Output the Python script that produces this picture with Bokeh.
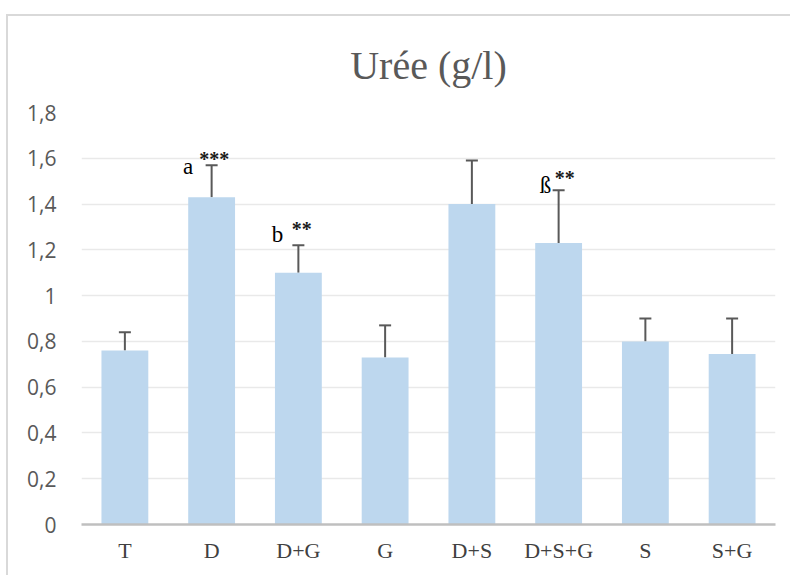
from bokeh.plotting import figure
from bokeh.models import ColumnDataSource, Whisker, TeeHead, FixedTicker, Range1d, Title
from bokeh.core.properties import value
from bokeh.embed import file_html
from bokeh.resources import INLINE

title_text = "Urée (g/l)"
categories = ["T", "D", "D+G", "G", "D+S", "D+S+G", "S", "S+G"]
means = [0.76, 1.43, 1.10, 0.73, 1.40, 1.23, 0.80, 0.745]
errors = [0.08, 0.14, 0.12, 0.14, 0.19, 0.23, 0.10, 0.155]

yticks = [0, 0.2, 0.4, 0.6, 0.8, 1.0, 1.2, 1.4, 1.6, 1.8]
ytick_labels = ["0", "0,2", "0,4", "0,6", "0,8", "1", "1,2", "1,4", "1,6", "1,8"]

# significance annotations: category index, letter, stars, letter y, stars y
ann_index = [1, 2, 5]
ann_letters = ["a", "b", "ß"]
ann_stars = ["***", "**", "**"]
ann_letter_y = [1.565, 1.265, 1.48]
ann_star_y = [1.595, 1.29, 1.515]
ann_letter_dx = [-0.27, -0.24, -0.15]
ann_star_dx = [0.03, 0.04, 0.07]

xs = list(range(len(categories)))
src = ColumnDataSource(dict(
    x=xs, top=means,
    upper=[m + e for m, e in zip(means, errors)],
))

W, H = 784, 561
BL, BR, BT, BB = 73, 17, 96, 53
p = figure(width=W, height=H, output_backend="svg", toolbar_location=None,
           x_range=Range1d(-0.5, len(categories) - 0.5), y_range=Range1d(0, 1.8),
           min_border_left=BL, min_border_right=BR, min_border_top=BT, min_border_bottom=BB,
           outline_line_color=None, background_fill_color="white", border_fill_color="white")
p.styles = {"border-left": "2px solid #d9d9d9", "border-top": "2px solid #d9d9d9",
            "margin-top": "14px", "margin-left": "6px"}

p.add_layout(Title(text=title_text, align="center", vertical_align="top",
                   text_font="Liberation Serif", text_font_size="40px",
                   text_font_style="normal", text_color="#595959", standoff=46), "above")

p.vbar(x="x", top="top", width=0.54, bottom=0, source=src,
       fill_color="#BDD7EE", line_color=None)

wh = Whisker(base="x", lower="top", upper="upper", source=src,
             line_color="#595959", line_width=2,
             upper_head=TeeHead(size=12, line_color="#595959", line_width=2),
             lower_head=None)
p.add_layout(wh)

lx = [ann_index[i] + ann_letter_dx[i] for i in range(len(ann_index))]
sx = [ann_index[i] + ann_star_dx[i] for i in range(len(ann_index))]
p.text(x=lx, y=ann_letter_y, text=ann_letters, text_font=value("Liberation Serif"),
       text_font_size="23px", text_align="center", text_baseline="middle", text_color="black")
p.text(x=sx, y=ann_star_y, text=ann_stars, text_font=value("Liberation Serif"),
       text_font_size="20px", text_font_style="bold", text_align="center",
       text_baseline="middle", text_color="#1a1a1a")

# axes
p.xaxis.ticker = FixedTicker(ticks=xs)
p.xaxis.major_label_overrides = {i: c for i, c in enumerate(categories)}
p.xaxis.major_label_text_font = "Liberation Serif"
p.xaxis.major_label_text_font_size = "22px"
p.xaxis.major_label_text_color = "#404040"
p.xaxis.major_tick_line_color = None
p.xaxis.minor_tick_line_color = None
p.xaxis.axis_line_color = "#bfbfbf"
p.xaxis.axis_line_width = 2.5
p.xaxis.major_label_standoff = 7

p.yaxis.ticker = FixedTicker(ticks=yticks)
p.yaxis.major_label_overrides = {t: l for t, l in zip(yticks, ytick_labels)}
p.yaxis.major_label_text_font = "Open Sans"
p.yaxis.major_label_text_font_size = "21px"
p.yaxis.major_label_text_color = "#595959"
p.yaxis.axis_line_color = None
p.yaxis.major_tick_line_color = None
p.yaxis.minor_tick_line_color = None
p.yaxis.major_label_standoff = 19

p.xgrid.grid_line_color = None
p.ygrid.ticker = FixedTicker(ticks=yticks[1:])
p.ygrid.grid_line_color = "#e9e9e9"
p.ygrid.grid_line_width = 1.5

open("out.html", "w").write(file_html(p, INLINE))
